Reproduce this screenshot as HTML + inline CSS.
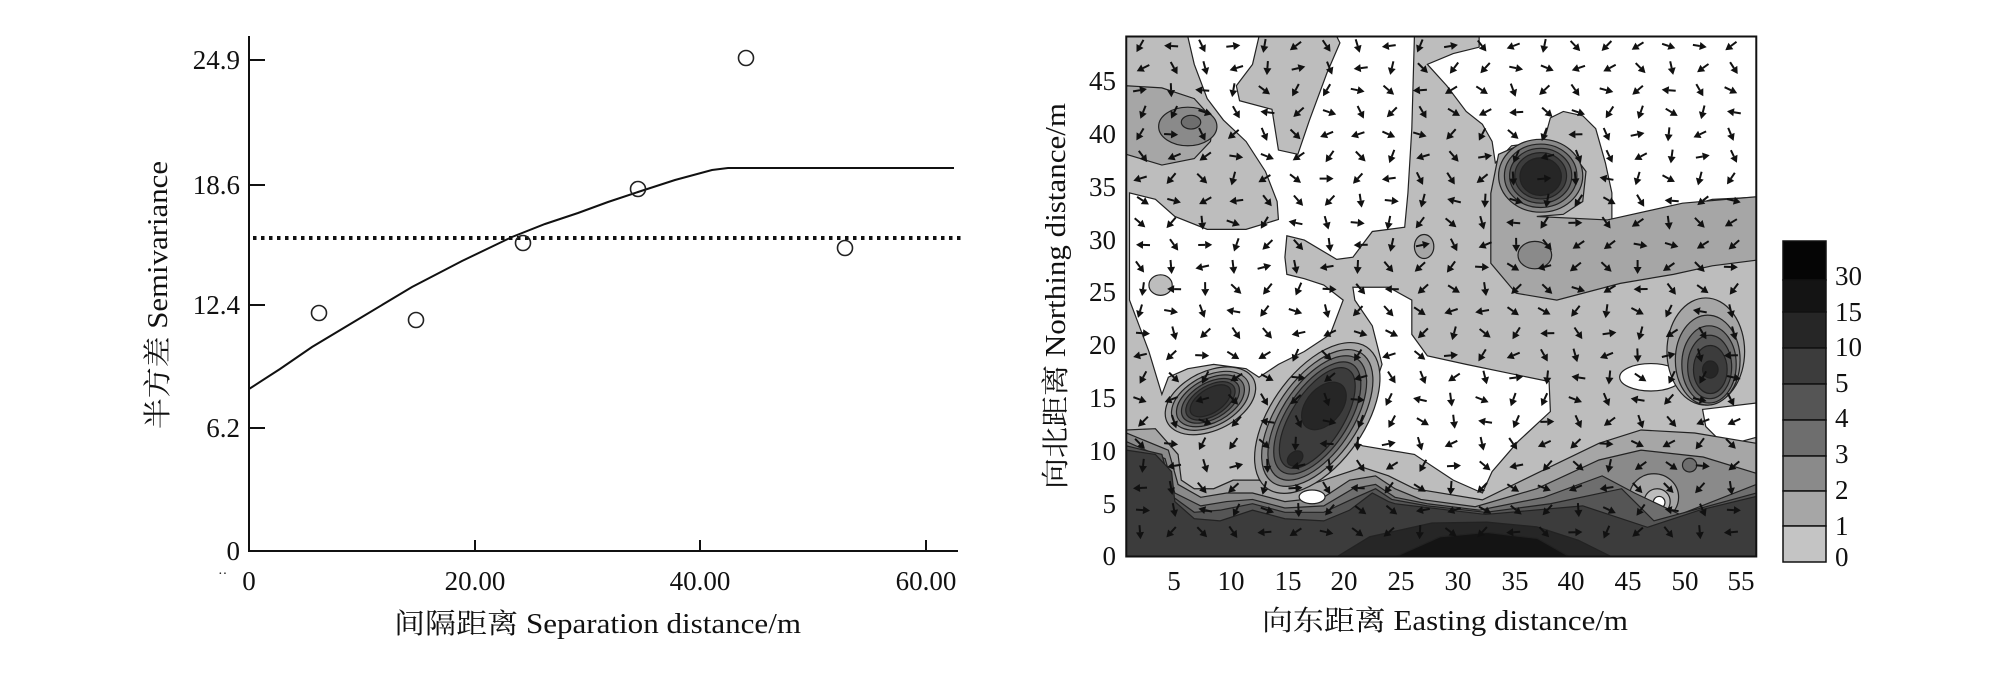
<!DOCTYPE html>
<html><head><meta charset="utf-8"><style>
html,body{margin:0;padding:0;background:#fff;}
svg{display:block;}
text{font-family:"Liberation Serif","Noto Serif CJK SC","Noto Sans CJK SC",serif;fill:#111;}
</style></head><body>
<svg id="s" width="2009" height="674" viewBox="0 0 2009 674" xmlns="http://www.w3.org/2000/svg">
<rect width="2009" height="674" fill="#fff"/>
<!-- LEFT CHART -->
<g stroke="#111" stroke-width="2" fill="none">
<line x1="249" y1="36" x2="249" y2="552"/>
<line x1="248" y1="551" x2="958" y2="551"/>
<line x1="249" y1="60" x2="265" y2="60"/>
<line x1="249" y1="185" x2="265" y2="185"/>
<line x1="249" y1="305" x2="265" y2="305"/>
<line x1="249" y1="428" x2="265" y2="428"/>
<line x1="475" y1="551" x2="475" y2="540"/>
<line x1="700" y1="551" x2="700" y2="540"/>
<line x1="926" y1="551" x2="926" y2="540"/>
</g>
<line x1="253" y1="238" x2="962" y2="238" stroke="#111" stroke-width="4" stroke-dasharray="3.5,4.5"/>
<path d="M249,389 L280,369 L312,347 L362,317 L412,287 L462,261 L512,237 L545,224 L578,213 L608,202 L638,192 L675,180 L712,170 L728,168 L954,168" fill="none" stroke="#111" stroke-width="2"/>
<g fill="none" stroke="#222" stroke-width="1.6">
<circle cx="319" cy="313" r="7.5"/><circle cx="416" cy="320" r="7.5"/><circle cx="523" cy="243" r="7.5"/>
<circle cx="638" cy="189" r="7.5"/><circle cx="746" cy="58" r="7.5"/><circle cx="845" cy="248" r="7.5"/>
</g>
<g font-size="27" text-anchor="end">
<text x="240" y="69">24.9</text><text x="240" y="194">18.6</text><text x="240" y="314">12.4</text>
<text x="240" y="437">6.2</text><text x="240" y="560">0</text>
</g>
<g font-size="27" text-anchor="middle">
<text x="249" y="590">0</text><text x="475" y="590">20.00</text><text x="700" y="590">40.00</text><text x="926" y="590">60.00</text>
</g>
<text x="218" y="578" font-size="14" fill="#666">··</text>
<text x="394" y="633" font-size="28" textLength="407" lengthAdjust="spacingAndGlyphs">间隔距离 Separation distance/m</text>
<text transform="translate(167,429) rotate(-90)" font-size="28" textLength="268" lengthAdjust="spacingAndGlyphs">半方差 Semivariance</text>

<!-- RIGHT MAP -->
<defs><clipPath id="cp"><rect x="195" y="85" width="973" height="1213"/></clipPath></defs>
<g transform="translate(1000,0) scale(0.6475,0.4287)">
<g clip-path="url(#cp)" stroke="#222" stroke-width="1.2">
<rect x="195" y="85" width="973" height="1213" fill="#bdbdbd" stroke="none"/>
<g fill="#fff">
<path vector-effect="non-scaling-stroke" d="M290,85 L400,85 L390,150 L365,200 L370,235 L420,255 L430,350 L460,360 L478,280 L505,170 L525,100 L520,85 L640,85 L636,300 L630,450 L625,530 L575,540 L545,600 L520,605 L470,560 L443,550 L440,600 L443,640 L470,650 L500,665 L530,700 L510,780 L470,820 L430,850 L400,880 L380,860 L330,850 L290,860 L260,880 L250,920 L230,820 L215,760 L200,700 L200,450 L240,465 L270,505 L320,535 L380,535 L430,512 L428,470 L410,400 L380,330 L345,280 L320,230 L300,150 Z"/>
<path vector-effect="non-scaling-stroke" d="M545,670 L600,670 L636,700 L636,780 L660,830 L720,850 L848,890 L850,960 L800,1030 L760,1100 L745,1150 L700,1120 L640,1060 L560,1040 L545,1030 L560,980 L575,917 L590,850 L575,760 L548,700 Z"/>
<path vector-effect="non-scaling-stroke" d="M740,85 L1168,85 L1168,460 L1100,465 L1040,490 L990,510 L945,515 L945,450 L935,380 L920,300 L900,270 L870,260 L850,275 L840,330 L790,340 L765,380 L760,330 L745,290 L720,260 L690,200 L660,150 L700,125 L740,110 Z"/>
<ellipse vector-effect="non-scaling-stroke" cx="1005" cy="880" rx="48" ry="32"/>
<path vector-effect="non-scaling-stroke" d="M1085,955 L1168,940 L1168,1020 L1120,1040 L1090,995 Z"/>
</g>
<ellipse vector-effect="non-scaling-stroke" cx="248" cy="665" rx="18" ry="24" fill="#bdbdbd"/>
<ellipse vector-effect="non-scaling-stroke" cx="655" cy="575" rx="15" ry="28" fill="#a6a6a6"/>
<path vector-effect="non-scaling-stroke" fill="#a6a6a6" d="M195,200 L250,205 L300,230 L330,280 L325,330 L300,370 L250,385 L195,360 Z"/>
<ellipse vector-effect="non-scaling-stroke" cx="290" cy="295" rx="45" ry="45" fill="#8a8a8a"/>
<ellipse vector-effect="non-scaling-stroke" cx="295" cy="285" rx="15" ry="16" fill="#6e6e6e"/>
<path vector-effect="non-scaling-stroke" fill="#a6a6a6" d="M770,360 L800,340 L850,330 L880,350 L905,400 L900,470 L870,500 L829,505 L938,513 L1054,474 L1168,459 L1168,607 L1100,620 L1040,640 L958,661 L860,700 L797,684 L758,614 L758,451 Z"/>
<ellipse vector-effect="non-scaling-stroke" cx="826" cy="595" rx="26" ry="32" fill="#8a8a8a"/>
<ellipse vector-effect="non-scaling-stroke" cx="835" cy="410" rx="65" ry="85" fill="#8a8a8a"/>
<ellipse vector-effect="non-scaling-stroke" cx="835" cy="410" rx="56" ry="74" fill="#6e6e6e"/>
<ellipse vector-effect="non-scaling-stroke" cx="835" cy="410" rx="48" ry="64" fill="#555"/>
<ellipse vector-effect="non-scaling-stroke" cx="835" cy="410" rx="40" ry="54" fill="#3c3c3c"/>
<ellipse vector-effect="non-scaling-stroke" cx="835" cy="412" rx="32" ry="44" fill="#262626"/>
<ellipse vector-effect="non-scaling-stroke" cx="1090" cy="820" rx="60" ry="125" fill="#a6a6a6"/>
<ellipse vector-effect="non-scaling-stroke" cx="1093" cy="840" rx="50" ry="105" fill="#8a8a8a"/>
<ellipse vector-effect="non-scaling-stroke" cx="1095" cy="850" rx="42" ry="90" fill="#6e6e6e"/>
<ellipse vector-effect="non-scaling-stroke" cx="1096" cy="856" rx="34" ry="74" fill="#555"/>
<ellipse vector-effect="non-scaling-stroke" cx="1097" cy="862" rx="26" ry="56" fill="#3c3c3c"/>
<ellipse vector-effect="non-scaling-stroke" cx="1097" cy="862" rx="12" ry="20" fill="#262626"/>
<path vector-effect="non-scaling-stroke" fill="#a6a6a6" d="M195,1003 L240,1000 L275,1060 L280,1120 L300,1140 L330,1140 L360,1120 L400,1120 L430,1140 L480,1130 L520,1110 L560,1090 L600,1110 L640,1140 L745,1166 L829,1104 L925,1034 L990,1003 L1073,1010 L1168,1034 L1168,1298 L195,1298 Z"/>
<path vector-effect="non-scaling-stroke" fill="#8a8a8a" d="M195,1010 L260,1050 L275,1130 L310,1160 L350,1150 L390,1150 L440,1170 L500,1160 L540,1120 L580,1110 L610,1140 L650,1165 L734,1182 L829,1140 L925,1073 L990,1050 L1086,1066 L1168,1104 L1168,1298 L195,1298 Z"/>
<ellipse vector-effect="non-scaling-stroke" cx="1010" cy="1160" rx="38" ry="55" fill="#a6a6a6"/>
<ellipse vector-effect="non-scaling-stroke" cx="1015" cy="1170" rx="20" ry="30" fill="#bdbdbd"/>
<ellipse vector-effect="non-scaling-stroke" cx="1018" cy="1172" rx="9" ry="14" fill="#fff"/>
<ellipse vector-effect="non-scaling-stroke" cx="1065" cy="1085" rx="11" ry="16" fill="#6e6e6e"/>
<path vector-effect="non-scaling-stroke" fill="#6e6e6e" d="M195,1030 L255,1070 L270,1150 L310,1180 L350,1170 L390,1165 L440,1185 L500,1180 L545,1140 L580,1130 L610,1160 L660,1175 L740,1190 L840,1160 L930,1110 L980,1150 L1050,1200 L1168,1130 L1168,1298 L195,1298 Z"/>
<path vector-effect="non-scaling-stroke" fill="#555" d="M195,1040 L250,1060 L268,1160 L300,1195 L340,1190 L390,1175 L440,1195 L500,1195 L550,1160 L580,1140 L605,1165 L660,1180 L750,1195 L850,1175 L960,1140 L1010,1215 L1168,1150 L1168,1298 L195,1298 Z"/>
<path vector-effect="non-scaling-stroke" fill="#3c3c3c" d="M195,1050 L240,1060 L265,1100 L270,1170 L300,1210 L340,1215 L390,1190 L440,1210 L500,1215 L540,1190 L575,1150 L600,1170 L610,1175 L750,1200 L900,1180 L1000,1230 L1080,1190 L1168,1158 L1168,1298 L195,1298 Z"/>
<path vector-effect="non-scaling-stroke" fill="#262626" d="M520,1299 L571,1252 L667,1220 L752,1218 L829,1229 L893,1260 L945,1299 Z"/>
<path vector-effect="non-scaling-stroke" fill="#141414" d="M610,1299 L680,1252 L752,1242 L830,1256 L880,1299 Z"/>
<ellipse vector-effect="non-scaling-stroke" cx="482" cy="1159" rx="20" ry="16" fill="#fff"/>
<g transform="rotate(36 325 935)">
<ellipse vector-effect="non-scaling-stroke" cx="325" cy="935" rx="58" ry="88" fill="#a6a6a6"/>
<ellipse vector-effect="non-scaling-stroke" cx="325" cy="935" rx="49" ry="77" fill="#8a8a8a"/>
<ellipse vector-effect="non-scaling-stroke" cx="325" cy="935" rx="42" ry="68" fill="#6e6e6e"/>
<ellipse vector-effect="non-scaling-stroke" cx="325" cy="935" rx="35" ry="59" fill="#555"/>
<ellipse vector-effect="non-scaling-stroke" cx="325" cy="935" rx="29" ry="51" fill="#3c3c3c"/>
<ellipse vector-effect="non-scaling-stroke" cx="325" cy="935" rx="23" ry="43" fill="#2e2e2e"/>
</g>
<g transform="rotate(20 490 975)">
<ellipse vector-effect="non-scaling-stroke" cx="490" cy="975" rx="78" ry="185" fill="#a6a6a6"/>
<ellipse vector-effect="non-scaling-stroke" cx="490" cy="975" rx="68" ry="168" fill="#8a8a8a"/>
<ellipse vector-effect="non-scaling-stroke" cx="490" cy="975" rx="59" ry="153" fill="#6e6e6e"/>
<ellipse vector-effect="non-scaling-stroke" cx="490" cy="975" rx="51" ry="138" fill="#555"/>
<ellipse vector-effect="non-scaling-stroke" cx="490" cy="975" rx="43" ry="124" fill="#3c3c3c"/>
<ellipse vector-effect="non-scaling-stroke" cx="490" cy="945" rx="30" ry="58" fill="#262626"/>
<ellipse vector-effect="non-scaling-stroke" cx="490" cy="1075" rx="11" ry="18" fill="#262626"/>
</g>
</g>
<rect x="195" y="85" width="973" height="1213" fill="none" stroke="#111" stroke-width="2" vector-effect="non-scaling-stroke"/>
</g>
<g id="arrows" fill="#111" stroke="#111"></g>
<g font-size="27" text-anchor="end">
<text x="1116" y="565">0</text><text x="1116" y="513">5</text><text x="1116" y="460">10</text>
<text x="1116" y="407">15</text><text x="1116" y="354">20</text><text x="1116" y="301">25</text>
<text x="1116" y="249">30</text><text x="1116" y="196">35</text><text x="1116" y="143">40</text><text x="1116" y="90">45</text>
</g>
<g font-size="27" text-anchor="middle">
<text x="1174" y="590">5</text><text x="1231" y="590">10</text><text x="1288" y="590">15</text><text x="1344" y="590">20</text>
<text x="1401" y="590">25</text><text x="1458" y="590">30</text><text x="1515" y="590">35</text><text x="1571" y="590">40</text>
<text x="1628" y="590">45</text><text x="1685" y="590">50</text><text x="1741" y="590">55</text>
</g>
<text x="1262" y="630" font-size="28" textLength="366" lengthAdjust="spacingAndGlyphs">向东距离 Easting distance/m</text>
<text transform="translate(1065,489) rotate(-90)" font-size="28" textLength="386" lengthAdjust="spacingAndGlyphs">向北距离 Northing distance/m</text>
<g stroke="#111" stroke-width="1.5">
<rect x="1783" y="241" width="43" height="39" fill="#050505"/>
<rect x="1783" y="280" width="43" height="32" fill="#141414"/>
<rect x="1783" y="312" width="43" height="36" fill="#262626"/>
<rect x="1783" y="348" width="43" height="36" fill="#3c3c3c"/>
<rect x="1783" y="384" width="43" height="36" fill="#555"/>
<rect x="1783" y="420" width="43" height="36" fill="#6e6e6e"/>
<rect x="1783" y="456" width="43" height="35" fill="#8a8a8a"/>
<rect x="1783" y="491" width="43" height="35" fill="#a6a6a6"/>
<rect x="1783" y="526" width="43" height="36" fill="#c4c4c4"/>
</g>
<g font-size="27">
<text x="1835" y="285">30</text><text x="1835" y="321">15</text><text x="1835" y="356">10</text>
<text x="1835" y="392">5</text><text x="1835" y="427">4</text><text x="1835" y="463">3</text>
<text x="1835" y="499">2</text><text x="1835" y="535">1</text><text x="1835" y="566">0</text>
</g>
</svg>
<script>
(function(){
var g=document.getElementById('arrows'),h='';
for(var i=0;i<20;i++){for(var j=0;j<23;j++){
var x=1140+i*31.1+((j%2)?3:0), y=46+j*22.1;
if(x>1752||y>552)continue;
var a=(90+75*Math.sin(i*1.7+j*2.3)+30*Math.cos(i*0.9-j*1.3))*Math.PI/180;
var c=Math.cos(a),s=Math.sin(a),L=7;
var x1=x-c*L,y1=y-s*L,x2=x+c*L,y2=y+s*L;
var hx=x2-c*7,hy=y2-s*7;
h+='<line x1="'+x1.toFixed(1)+'" y1="'+y1.toFixed(1)+'" x2="'+hx.toFixed(1)+'" y2="'+hy.toFixed(1)+'" stroke-width="2"/>';
h+='<polygon stroke="none" points="'+x2.toFixed(1)+','+y2.toFixed(1)+' '+(hx-s*4).toFixed(1)+','+(hy+c*4).toFixed(1)+' '+(hx+s*4).toFixed(1)+','+(hy-c*4).toFixed(1)+'"/>';
}}
g.innerHTML=h;
})();
</script>
</body></html>
